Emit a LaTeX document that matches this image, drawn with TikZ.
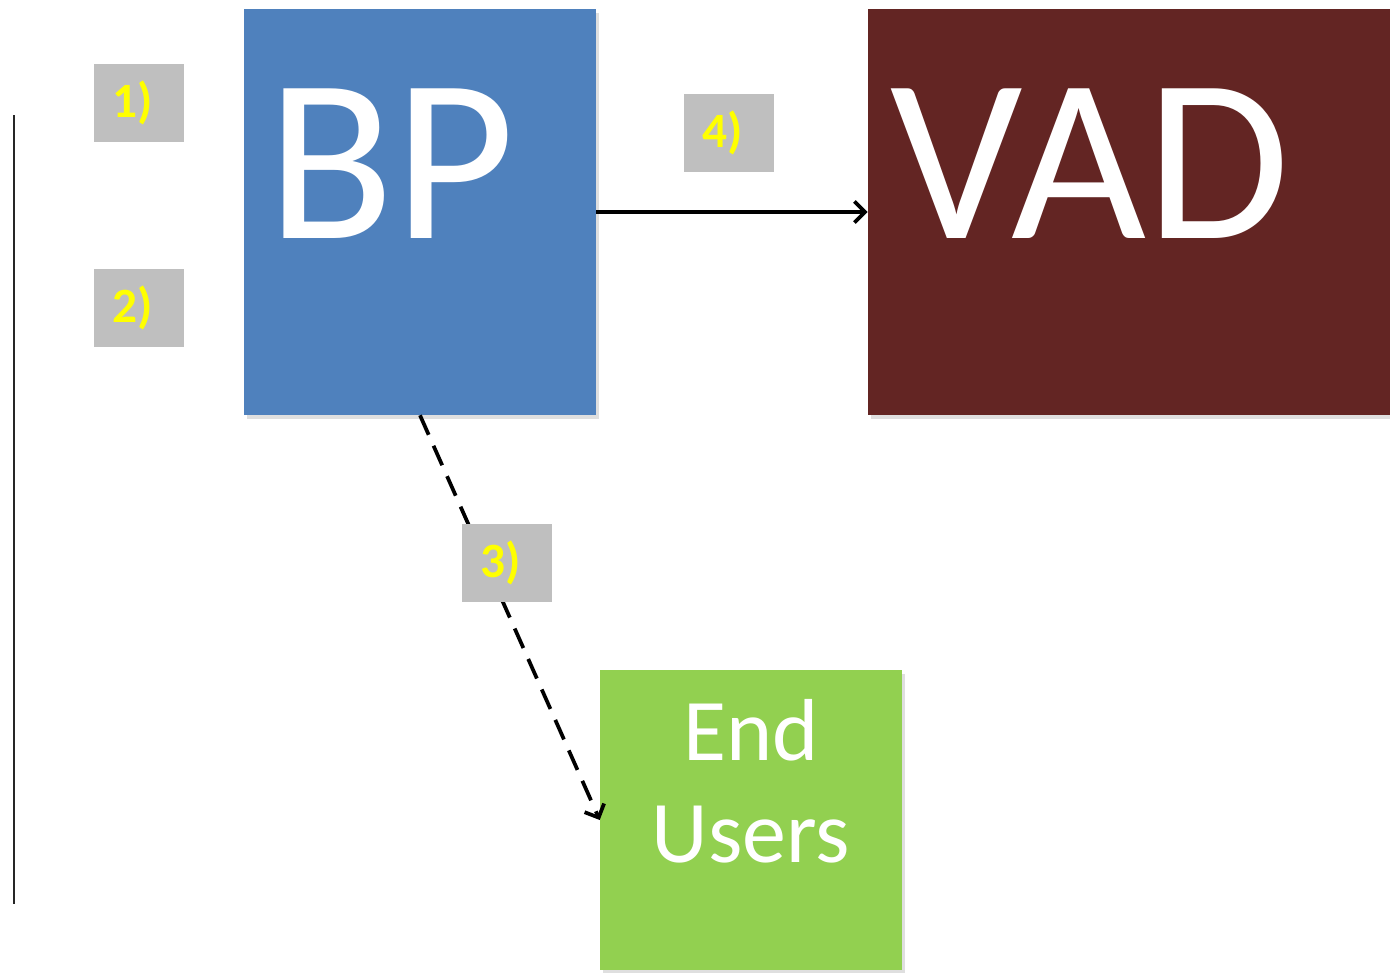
\documentclass[tikz,border=0pt]{standalone}
\usepackage{fontspec}
\setmainfont{Carlito}
\usetikzlibrary{arrows.meta,shadows}
\definecolor{bpblue}{HTML}{4F81BD}
\definecolor{vadred}{HTML}{632523}
\definecolor{eugreen}{HTML}{92D050}
\definecolor{lblgray}{HTML}{BFBFBF}
\definecolor{lblyellow}{HTML}{FFFF00}
\tikzset{
  boxshadow/.style={drop shadow={opacity=0.25,shadow xshift=2pt,shadow yshift=-3pt}},
  mainbox/.style={rectangle, inner sep=0pt, boxshadow},
  bigtext/.style={inner sep=0pt, text=white, font=\fontsize{175}{210}\selectfont},
  eufont/.style={inner sep=0pt, text=white, font=\fontsize{66}{76.5}\selectfont, anchor=base},
  lblbox/.style={rectangle, fill=lblgray, inner sep=0pt, minimum width=67.5pt, minimum height=58.5pt},
  lbltext/.style={inner sep=0pt, text=lblyellow, font=\fontsize{37}{40}\selectfont\bfseries},
  conn/.style={line width=2.8pt, draw=black, -{Straight Barb[length=8pt,width=16pt,line width=2.8pt]}},
}
\begin{document}
\begin{tikzpicture}[x=0.75pt,y=-0.75pt]
\useasboundingbox (0,0) rectangle (1390,972);
% left vertical line
\coordinate (lt) at (14,115);
\coordinate (lb) at (14,904);
\draw[line width=1.6pt, black!85] (lt) -- (lb);
% main boxes
\node[mainbox, fill=bpblue, minimum width=264pt, minimum height=304.5pt] (bp) at (420,212) {};
\node[mainbox, fill=vadred, minimum width=391.5pt, minimum height=304.5pt] (vad) at (1129,212) {};
\node[mainbox, fill=eugreen, minimum width=226.5pt, minimum height=225pt] (eu) at (751,820) {};
% texts
\node[bigtext, anchor=base west] (bptext) at (267,238) {BP};
\node[bigtext, anchor=base west] (vadtext) at (890,238) {VAD};
\node[eufont] (endtext) at (751,760) {End};
\node[eufont] (userstext) at (751,862) {Users};
% connectors
\draw[conn] (bp.east) -- (vad.west);
\draw[conn, dash pattern=on 16pt off 9pt] (bp.south) -- (eu.west);
% labels
\node[lblbox] (l1) at (139,103) {};
\node[lbltext] (l1t) at (133,103) {1)};
\node[lblbox] (l2) at (139,308) {};
\node[lbltext] (l2t) at (133,308) {2)};
\node[lblbox] (l4) at (729,133) {};
\node[lbltext] (l4t) at (723,133) {4)};
\node[lblbox] (l3) at (507,563) {};
\node[lbltext] (l3t) at (501,563) {3)};
\end{tikzpicture}
\end{document}
